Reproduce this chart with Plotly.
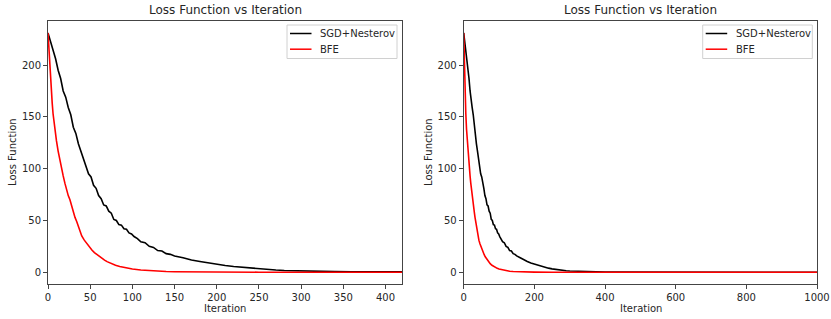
import plotly.graph_objects as go

# ---------------- data ----------------
sgd_iter = [0, 3, 6, 9, 12, 15, 18, 21, 24, 27, 30, 33, 36, 39, 42, 45, 48, 51, 54, 57,
            60, 63, 66, 69, 72, 75, 78, 81, 84, 87, 90, 93, 96, 99, 102, 106, 110, 115, 120, 125,
            130, 135, 140, 145, 150, 160, 170, 180, 190, 200, 210, 220, 230, 240, 250, 260, 270, 280, 290, 300,
            320, 340, 360, 380, 400, 420, 450, 500, 600, 700, 800, 900, 1000]
sgd_loss = [231, 223, 214, 206, 195, 187, 175, 169, 159, 152, 140, 134, 124, 117, 108, 102, 95, 92, 84, 81,
            74, 71, 65, 64, 59, 57, 51, 50, 46, 45.5, 42, 41.5, 38, 37, 34.5, 32.5, 29.5, 28.5, 25, 24,
            21, 20.5, 18, 17.3, 15.8, 14, 11.8, 10.4, 8.9, 7.8, 6.6, 5.6, 4.8, 4.0, 3.3, 2.7, 2.2, 1.8, 1.5, 1.2,
            0.9, 0.65, 0.45, 0.35, 0.28, 0.22, 0.18, 0.14, 0.10, 0.08, 0.07, 0.06, 0.05]

bfe_iter = [0, 1, 2, 3, 4, 5, 6, 8, 10, 12, 14, 16, 18, 20, 22, 24, 26, 28, 30, 32,
            34, 36, 38, 40, 43, 46, 49, 52, 55, 58, 61, 64, 67, 70, 75, 80, 85, 90, 95, 100,
            110, 120, 130, 140, 150, 175, 200, 250, 300, 400, 1000]
bfe_loss = [231, 215, 200, 186, 174, 163, 153, 138, 127, 117, 108, 100, 93, 86, 79, 74, 70, 64, 58, 53,
            49, 44, 39, 35, 31, 27.5, 24.5, 21.5, 19, 17, 15, 13.3, 11.8, 10.3, 8.3, 6.8, 5.6, 4.6, 3.8, 3.1,
            2.2, 1.5, 1.0, 0.7, 0.5, 0.3, 0.2, 0.1, 0.08, 0.06, 0.05]

series_names = ["SGD+Nesterov", "BFE"]
series_colors = ["black", "red"]
chart_title = "Loss Function vs Iteration"
x_label = "Iteration"
y_label = "Loss Function"
left_xlim = [0, 419.5]
right_xlim = [0, 1000]
y_lim = [-11.3, 242.5]

# ---------------- figure ----------------
W, H = 831, 319
FONT = "DejaVu Sans"
TXT = "#262626"

fig = go.Figure()

panels = [("x", "y"), ("x2", "y2")]
for xa, ya in panels:
    for name, col, xs, ys in zip(series_names, series_colors,
                                 [sgd_iter, bfe_iter], [sgd_loss, bfe_loss]):
        fig.add_trace(go.Scatter(x=xs, y=ys, mode="lines", name=name,
                                 line=dict(color=col, width=1.6),
                                 xaxis=xa, yaxis=ya, showlegend=False))

def px2x(p):
    return p / W

def px2y(p):
    return 1 - p / H

ydom = [px2y(284), px2y(21)]
axis_common = dict(showline=True, linecolor="#444", linewidth=1, mirror=True,
                   ticks="outside", ticklen=4, tickcolor="#444", showgrid=False,
                   zeroline=False, automargin=False,
                   tickfont=dict(family=FONT, size=10, color=TXT))

fig.update_layout(
    width=W, height=H, margin=dict(l=0, r=0, t=0, b=0, autoexpand=False),
    paper_bgcolor="white", plot_bgcolor="white",
    font=dict(family=FONT, color=TXT),
    showlegend=False,
    xaxis=dict(domain=[px2x(48), px2x(402)], range=left_xlim, anchor="y",
               tickvals=[0, 50, 100, 150, 200, 250, 300, 350, 400], **axis_common),
    yaxis=dict(domain=ydom, range=y_lim, anchor="x",
               tickvals=[0, 50, 100, 150, 200], **axis_common),
    xaxis2=dict(domain=[px2x(463.7), px2x(817)], range=right_xlim, anchor="y2",
                tickvals=[0, 200, 400, 600, 800, 1000], **axis_common),
    yaxis2=dict(domain=ydom, range=y_lim, anchor="x2",
                tickvals=[0, 50, 100, 150, 200], **axis_common),
)

annotations = []
shapes = []
# (title centre, y-label x, legend box left, legend box right)
for cx, ylx, lb, rb in [(225, 12, 287, 397), (640.5, 428, 702.7, 812.3)]:
    annotations.append(dict(text=chart_title, x=px2x(cx), y=px2y(10), xref="paper", yref="paper",
                            showarrow=False, font=dict(family=FONT, size=12, color=TXT),
                            xanchor="center", yanchor="middle"))
    annotations.append(dict(text=x_label, x=px2x(cx), y=px2y(308), xref="paper", yref="paper",
                            showarrow=False, font=dict(family=FONT, size=10, color=TXT),
                            xanchor="center", yanchor="middle"))
    annotations.append(dict(text=y_label, x=px2x(ylx), y=px2y(152), xref="paper", yref="paper",
                            showarrow=False, textangle=-90,
                            font=dict(family=FONT, size=10, color=TXT),
                            xanchor="center", yanchor="middle"))
    # legend frame
    shapes.append(dict(type="rect", xref="paper", yref="paper",
                       x0=px2x(lb), x1=px2x(rb), y0=px2y(58.5), y1=px2y(25),
                       line=dict(color="#d0d0d0", width=1), fillcolor="rgba(255,255,255,0.85)",
                       layer="above"))
    for i, (name, col) in enumerate(zip(series_names, series_colors)):
        ry = 33.5 + 15.7 * i
        shapes.append(dict(type="line", xref="paper", yref="paper",
                           x0=px2x(lb + 3), x1=px2x(lb + 24.5), y0=px2y(ry), y1=px2y(ry),
                           line=dict(color=col, width=1.5), layer="above"))
        annotations.append(dict(text=name, x=px2x(lb + 31), y=px2y(ry), xref="paper", yref="paper",
                                showarrow=False, font=dict(family=FONT, size=10, color=TXT),
                                xanchor="left", yanchor="middle"))
fig.update_layout(annotations=annotations, shapes=shapes)

fig.write_html("out.html",
               config={"displayModeBar": False},
               post_script="document.body.style.margin='0';document.body.style.padding='0';")
